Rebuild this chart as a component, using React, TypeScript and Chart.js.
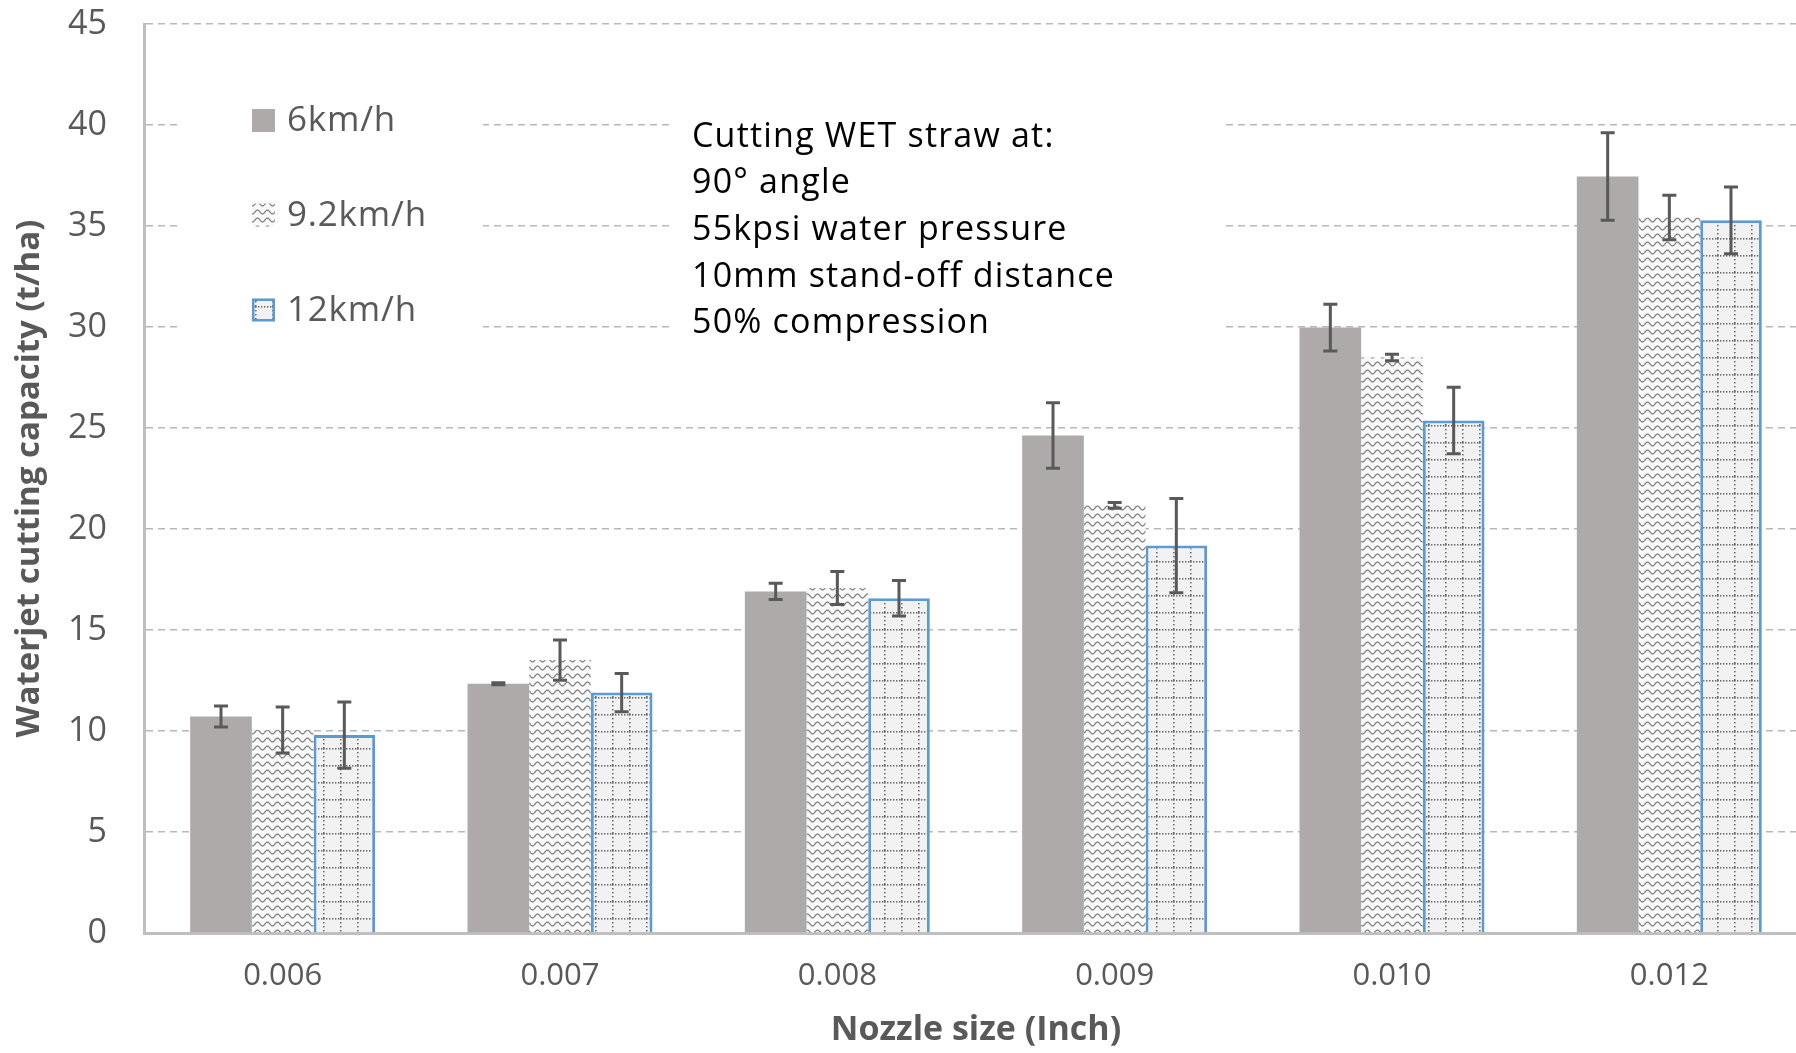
import React, { useEffect, useRef } from 'react';
import { Chart, registerables } from 'chart.js';

Chart.register(...registerables);

// ---------- data ----------
const categories = ['0.006', '0.007', '0.008', '0.009', '0.010', '0.012'];
const seriesNames = ['6km/h', '9.2km/h', '12km/h'];
const speed6 = [10.72, 12.34, 16.91, 24.63, 29.97, 37.45];
const speed92 = [10.05, 13.51, 17.08, 21.17, 28.49, 35.42];
const speed12 = [9.8, 11.9, 16.57, 19.18, 25.37, 35.28];
const err6 = [0.52, 0.05, 0.4, 1.62, 1.16, 2.17];
const err92 = [1.14, 1.0, 0.82, 0.14, 0.16, 1.1];
const err12 = [1.64, 0.95, 0.88, 2.33, 1.65, 1.65];
const yMin = 0;
const yMax = 45;
const yStep = 5;
const xTitle = 'Nozzle size (Inch)';
const yTitle = 'Waterjet cutting capacity (t/ha)';
const annotationLines = [
  'Cutting WET straw at:',
  '90° angle',
  '55kpsi water pressure',
  '10mm stand-off distance',
  '50% compression',
];

const FONT = "'Open Sans', 'Noto Sans', sans-serif";
const TEXT = '#595959';

function makeWavePattern(): CanvasPattern | string {
  const w = 10;
  const h = 8;
  const c = document.createElement('canvas');
  c.width = w;
  c.height = h;
  const g = c.getContext('2d');
  if (!g) return '#dddddd';
  g.fillStyle = '#f9f9f9';
  g.fillRect(0, 0, w, h);
  g.strokeStyle = '#7a7a7a';
  g.lineWidth = 1.2;
  g.beginPath();
  for (let x = -1; x <= w + 1; x += 0.5) {
    const y = 4 + 2 * Math.sin((2 * Math.PI * x) / w);
    if (x === -1) g.moveTo(x, y);
    else g.lineTo(x, y);
  }
  g.stroke();
  return g.createPattern(c, 'repeat') || '#dddddd';
}

function makeGridPattern(): CanvasPattern | string {
  const s = 17;
  const c = document.createElement('canvas');
  c.width = s;
  c.height = s;
  const g = c.getContext('2d');
  if (!g) return '#f2f2f2';
  g.fillStyle = '#f2f2f2';
  g.fillRect(0, 0, s, s);
  g.fillStyle = '#6a6a6a';
  for (let x = 0; x < s; x += 3) g.fillRect(x, 0, 1.4, 1.6);
  for (let y = 0; y < s; y += 4) g.fillRect(0, y, 1.6, 1.4);
  return g.createPattern(c, 'repeat') || '#f2f2f2';
}

export default function App() {
  const ref = useRef<HTMLCanvasElement | null>(null);

  useEffect(() => {
    const canvas = ref.current;
    if (!canvas) return;
    const wave = makeWavePattern();
    const grid = makeGridPattern();
    const errors = [err6, err92, err12];
    const fills: any[] = ['#aeaaaa', wave, grid];
    const borders = ['rgba(0,0,0,0)', 'rgba(0,0,0,0)', '#5b9bd5'];

    const decor = {
      id: 'decor',
      beforeDatasetsDraw(chart: any) {
        const ctx = chart.ctx;
        ctx.save();
        ctx.fillStyle = '#ffffff';
        ctx.fillRect(181, 95, 302, 250);
        ctx.fillRect(671, 100, 554, 245);
        ctx.restore();
      },
      afterDatasetsDraw(chart: any) {
        const ctx = chart.ctx;
        const yScale = chart.scales.y;
        ctx.save();
        ctx.strokeStyle = '#595959';
        ctx.lineWidth = 3;
        chart.data.datasets.forEach((ds: any, i: number) => {
          const meta = chart.getDatasetMeta(i);
          meta.data.forEach((el: any, j: number) => {
            const v = ds.data[j];
            const e = errors[i][j];
            const x = el.x;
            const yt = yScale.getPixelForValue(v + e);
            const yb = yScale.getPixelForValue(v - e);
            ctx.beginPath();
            ctx.moveTo(x, yt);
            ctx.lineTo(x, yb);
            ctx.moveTo(x - 7, yt);
            ctx.lineTo(x + 7, yt);
            ctx.moveTo(x - 7, yb);
            ctx.lineTo(x + 7, yb);
            ctx.stroke();
          });
        });
        ctx.restore();
      },
      afterDraw(chart: any) {
        const ctx = chart.ctx;
        ctx.save();
        // legend
        const ly = [120.5, 215, 310];
        ctx.font = `35px ${FONT}`;
        ctx.textBaseline = 'middle';
        ctx.textAlign = 'left';
        try { (ctx as any).letterSpacing = '0.8px'; } catch (e) {}
        seriesNames.forEach((name, i) => {
          const y = ly[i];
          ctx.fillStyle = fills[i];
          ctx.fillRect(252, y - 11.5, 23, 23);
          if (i === 2) {
            ctx.strokeStyle = borders[2];
            ctx.lineWidth = 2.5;
            ctx.strokeRect(253.25, y - 10.25, 20.5, 20.5);
          }
          ctx.fillStyle = TEXT;
          ctx.fillText(name, 287, y + 1);
        });
        // annotation
        ctx.fillStyle = '#000000';
        ctx.font = `34px ${FONT}`;
        try { (ctx as any).letterSpacing = '1.2px'; } catch (e) {}
        const ay = [136, 182, 229, 276, 322];
        annotationLines.forEach((t, i) => ctx.fillText(t, 692, ay[i] + 1));
        try { (ctx as any).letterSpacing = '0px'; } catch (e) {}
        ctx.restore();
      },
    };

    const chart = new Chart(canvas, {
      type: 'bar',
      data: {
        labels: categories,
        datasets: [
          { label: seriesNames[0], data: speed6, backgroundColor: fills[0], borderWidth: 0 },
          { label: seriesNames[1], data: speed92, backgroundColor: fills[1], borderWidth: 0 },
          { label: seriesNames[2], data: speed12, backgroundColor: fills[2], borderColor: borders[2], borderWidth: 3 },
        ],
      },
      options: {
        responsive: false,
        animation: false,
        events: [],
        layout: { padding: { top: 24, left: 0, right: 0, bottom: 0 } },
        datasets: { bar: { categoryPercentage: 0.667, barPercentage: 1 } },
        plugins: { legend: { display: false }, tooltip: { enabled: false }, title: { display: false } },
        scales: {
          x: {
            grid: { display: false, drawTicks: false },
            border: { display: true, color: '#bfbfbf', width: 3 },
            ticks: { color: TEXT, font: { family: FONT, size: 31 }, padding: 25 },
            title: {
              display: true,
              text: xTitle,
              color: TEXT,
              font: { family: FONT, size: 34, weight: 'bold' },
              padding: { top: 0, bottom: 2 },
            },
            afterFit: (s: any) => {
              s.height = 120;
              s.paddingLeft = 0;
              s.paddingRight = 0;
            },
          },
          y: {
            min: yMin,
            max: yMax,
            ticks: { stepSize: yStep, color: TEXT, font: { family: FONT, size: 34 }, padding: 37 },
            grid: { color: '#b8b8b8', lineWidth: 1.5, drawTicks: false },
            border: { display: true, color: '#bfbfbf', width: 3, dash: [7, 5] },
            title: {
              display: true,
              text: yTitle,
              color: TEXT,
              font: { family: FONT, size: 33, weight: 'bold' },
              padding: { top: 10, bottom: 0 },
            },
            afterFit: (s: any) => {
              s.width = 144;
              s.paddingTop = 0;
              s.paddingBottom = 0;
            },
          },
        },
      } as any,
      plugins: [decor],
    });
    return () => chart.destroy();
  }, []);

  return (
    <div style={{ position: 'fixed', left: 0, top: 0, width: 1796, height: 1053, overflow: 'hidden', background: '#ffffff' }}>
      <canvas ref={ref} width={1808} height={1053} style={{ display: 'block', width: 1808, height: 1053 }} />
    </div>
  );
}
